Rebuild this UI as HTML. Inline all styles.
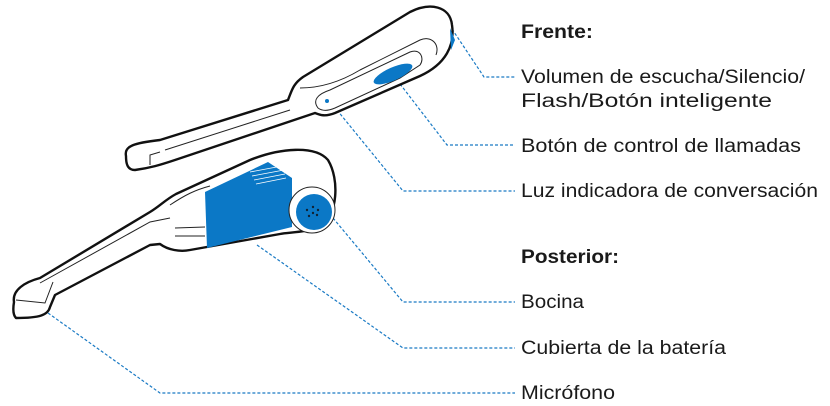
<!DOCTYPE html>
<html><head><meta charset="utf-8"><style>
html,body{margin:0;padding:0;background:#fff;}
svg{display:block}
text{font-family:"Liberation Sans",sans-serif;font-size:19px;fill:#1a1a1a}
</style></head><body>
<svg width="830" height="406" viewBox="0 0 830 406" xmlns="http://www.w3.org/2000/svg">
<g fill="none" stroke="#1a7ac4" stroke-width="1.2" stroke-dasharray="3,2">
<polyline points="452,29 484,77 515,77"/>
<polyline points="397,80 447,145 515,145"/>
<polyline points="337,110 403,191 515,191"/>
<polyline points="333,218 403,302 515,302"/>
<polyline points="257,245 403,348 515,348"/>
<polyline points="48,313 160,393 515,393"/>
</g>
<!-- upper headset -->
<g stroke="#111" stroke-width="2.4" fill="#fff" stroke-linejoin="round">
<path d="M126,156 C124,146 134,143 160,140 L288,100 C292,90 293,84 303,77 L410,12 C430,2 450,6 452,25 C455,45 446,64 420,76 L335,113 C325,117 320,115 315,113 L175,160 C160,165 150,168 135,170 C127,170 126,163 126,156 Z"/>
</g>
<g stroke="#222" stroke-width="1" fill="none">
<path d="M300,88 C320,88 340,82 360,70 L420,40 C432,35 440,45 436,55"/>
<path d="M318,108 C312,100 318,94 330,90 L410,52 C420,48 425,58 420,65 L400,78 L335,108 C328,111 322,111 318,108 Z"/>
<path d="M150,165 L150,155 L160,152"/>
<path d="M165,150 L290,110"/>
</g>
<ellipse cx="393" cy="74" rx="21" ry="6.5" transform="rotate(-24 393 74)" fill="#0b78c6"/>
<path d="M450,28 L455,40 L451,50 Z" fill="#0b78c6"/>
<circle cx="327" cy="101" r="2" fill="#0b78c6"/>
<!-- lower headset -->
<g stroke="#111" stroke-width="2.4" fill="#fff" stroke-linejoin="round">
<path d="M14,302 C12,290 25,282 40,278 L150,212 C160,206 165,200 176,194 L250,160 C280,148 315,145 328,160 C340,180 337,215 322,226 C305,233 290,232 280,234 L190,250 C180,252 168,250 160,244 L150,245 L55,295 L50,307 C48,315 40,318 16,318 C13,315 13,308 14,302 Z"/>
</g>
<g stroke="#222" stroke-width="1" fill="none">
<path d="M16,300 L45,303 L53,282"/>
<path d="M40,283 L150,222 L170,218"/>
<path d="M170,205 C185,195 195,190 210,186"/>
<path d="M175,228 L205,227 M175,236 L205,236"/>
</g>
<path d="M205,192 L268,162 L292,178 L292,227 L207,248 Z" fill="#0b78c6"/>
<g stroke="#fff" stroke-width="0.8"><path d="M250,172 L282,166 M252,176 L284,170 M254,180 L285,174 M256,184 L286,178"/></g>
<circle cx="312" cy="210" r="23" fill="#fff" stroke="#222" stroke-width="1"/>
<circle cx="314" cy="212" r="18" fill="#0b78c6"/>
<g fill="#123"><circle cx="307" cy="210" r="1.2"/><circle cx="313" cy="207" r="1.2"/><circle cx="318" cy="210" r="1.2"/><circle cx="313" cy="213" r="1.2"/><circle cx="309" cy="216" r="1.2"/><circle cx="317" cy="215" r="1.2"/></g>
<!-- text -->
<g>
<text x="521" y="38" font-weight="bold" textLength="72" lengthAdjust="spacingAndGlyphs">Frente:</text>
<text x="521" y="83" textLength="284" lengthAdjust="spacingAndGlyphs">Volumen de escucha/Silencio/</text>
<text x="521" y="107" textLength="251" lengthAdjust="spacingAndGlyphs">Flash/Botón inteligente</text>
<text x="521" y="152" textLength="280" lengthAdjust="spacingAndGlyphs">Botón de control de llamadas</text>
<text x="521" y="197" textLength="297" lengthAdjust="spacingAndGlyphs">Luz indicadora de conversación</text>
<text x="521" y="263" font-weight="bold" textLength="98" lengthAdjust="spacingAndGlyphs">Posterior:</text>
<text x="521" y="308" textLength="63" lengthAdjust="spacingAndGlyphs">Bocina</text>
<text x="521" y="354" textLength="205" lengthAdjust="spacingAndGlyphs">Cubierta de la batería</text>
<text x="521" y="399" textLength="94" lengthAdjust="spacingAndGlyphs">Micrófono</text>
</g>
</svg>
</body></html>
